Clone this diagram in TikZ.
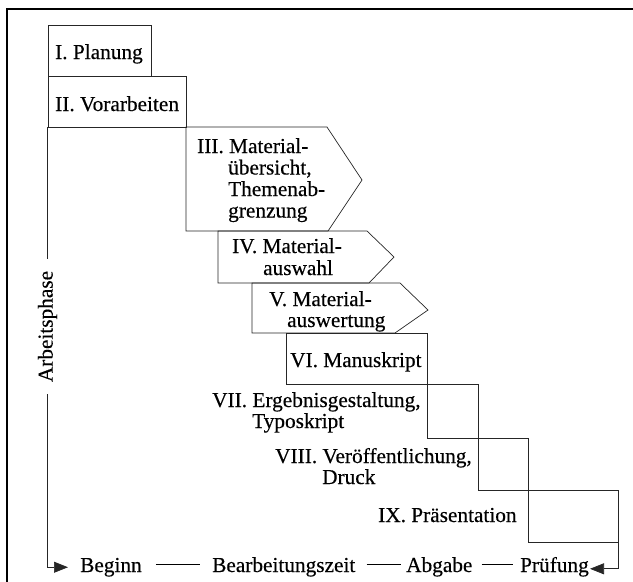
\documentclass[tikz,border=0pt]{standalone}
\usepackage{fontspec}
\setmainfont[FakeBold=0.35]{Liberation Serif}
\usetikzlibrary{arrows.meta,calc}
\begin{document}
\begin{tikzpicture}[x=1pt,y=-1pt,
  phase/.style={draw=black!85,line width=0.7pt},
  lbl/.style={anchor=base west,inner sep=0pt,font=\fontsize{21.3}{25}\selectfont},
  conn/.style={draw=black!85,line width=0.7pt},
  arr/.style={conn,-{Triangle[length=14pt,width=11pt]}},
  dashln/.style={draw=black,line width=0.9pt},
  frameln/.style={draw=black,line width=2.5pt}]
\useasboundingbox (0,0) rectangle (633,582);
\draw[frameln] (7,582) -- (7,9) -- (633,9);
% phase shapes
\draw[phase] (48,25) rectangle (151,76);
\draw[phase] (48,76) rectangle (186,127);
\draw[phase] (186,127) -- (327,127) -- (362,180) -- (328,231) -- (186,231) -- cycle;
\draw[phase] (218,231) -- (367,231) -- (394,257) -- (369,283) -- (218,283) -- cycle;
\draw[phase] (252,283) -- (400,283) -- (428,310) -- (395,333) -- (252,333) -- cycle;
\draw[phase] (286,333) rectangle (427,384);
\draw[phase] (286,384) -- (478,384);
\draw[phase] (427,384) -- (427,438) -- (528,438);
\draw[phase] (478,384) -- (478,490) -- (618,490);
\draw[phase] (528,438) -- (528,542) -- (618,542);
% labels
\node[lbl] (p1) at (55,59) {I. Planung};
\node[lbl] (p2) at (55,111) {II. Vorarbeiten};
\node[lbl] (p3a) at (197,153) {III. Material-};
\node[lbl] (p3b) at (228,174.5) {übersicht,};
\node[lbl] (p3c) at (228,196) {Themenab-};
\node[lbl] (p3d) at (228,217.5) {grenzung};
\node[lbl] (p4a) at (232,253) {IV. Material-};
\node[lbl] (p4b) at (263,275) {auswahl};
\node[lbl] (p5a) at (269,306) {V. Material-};
\node[lbl] (p5b) at (287,327) {auswertung};
\node[lbl] (p6) at (290,367) {VI. Manuskript};
\node[lbl] (p7a) at (212,407) {VII. Ergebnisgestaltung,};
\node[lbl] (p7b) at (252,428) {Typoskript};
\node[lbl] (p8a) at (275,463) {VIII. Veröffentlichung,};
\node[lbl] (p8b) at (322,484) {Druck};
\node[lbl] (p9) at (378,522) {IX. Präsentation};
% time axis
\node[lbl] (beginn) at (80,572) {Beginn};
\node[lbl] (bearb) at (212,572) {Bearbeitungszeit};
\node[lbl] (abgabe) at (406,572) {Abgabe};
\node[lbl] (pruef) at (520,572) {Prüfung};
\draw[dashln] ([xshift=14pt,yshift=8pt]beginn.base east) -- ([xshift=-12pt,yshift=8pt]bearb.base west);
\draw[dashln] ([xshift=11pt,yshift=8pt]bearb.base east) -- ([xshift=-5pt,yshift=8pt]abgabe.base west);
\draw[dashln] ([xshift=9pt,yshift=8pt]abgabe.base east) -- ([xshift=-7pt,yshift=8pt]pruef.base west);
% phase axis
\node[font=\fontsize{21.3}{25}\selectfont,rotate=90,inner xsep=12pt,inner ysep=0pt] (arbeit) at (47.5,326.5) {Arbeitsphase};
\coordinate (axtop) at (47.5,127);
\coordinate (stairend) at (618,490);
\draw[conn] (axtop) -- (arbeit.east);
\draw[arr,shorten >=12pt] (arbeit.west) |- (beginn.west);
\draw[arr,shorten >=1pt] (stairend) |- ([yshift=-2pt]pruef.east);
\end{tikzpicture}
\end{document}
